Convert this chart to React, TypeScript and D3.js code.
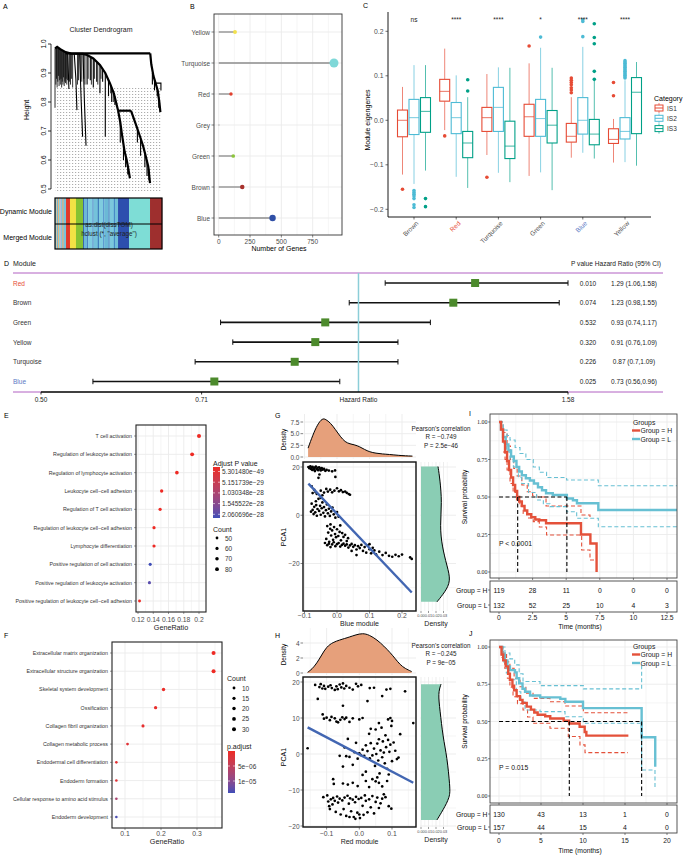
import React from 'react';
import * as d3 from 'd3';

const SANS = '"Liberation Sans", Arial, Helvetica, sans-serif';
const SERIF = '"Liberation Serif", "Times New Roman", serif';
const GRID = '#EBEBEB';
const TXT = '#4D4D4D';

/* ---------------- A : dendrogram ---------------- */
const dendroTicks = [0.5, 0.6, 0.7, 0.8, 0.9, 1.0];
// [leaf position, merge height, leaf height]
const leafComb: [number, number, number][] = [
  [0.0, 0.985, 0.78], [0.008, 0.988, 0.86], [0.014, 0.99, 0.88], [0.02, 0.99, 0.85], [0.026, 0.987, 0.87],
  [0.032, 0.985, 0.89], [0.038, 0.984, 0.855], [0.044, 0.982, 0.875], [0.05, 0.982, 0.86], [0.056, 0.98, 0.88],
  [0.062, 0.978, 0.85], [0.068, 0.977, 0.87], [0.074, 0.976, 0.86], [0.08, 0.975, 0.885], [0.086, 0.974, 0.855],
  [0.092, 0.973, 0.87], [0.098, 0.972, 0.865], [0.104, 0.971, 0.88], [0.11, 0.97, 0.86], [0.116, 0.969, 0.875],
  [0.135, 0.968, 0.87], [0.145, 0.967, 0.86], [0.155, 0.967, 0.88], [0.165, 0.966, 0.85], [0.21, 0.966, 0.86],
  [0.22, 0.966, 0.875], [0.24, 0.966, 0.88], [0.25, 0.966, 0.87], [0.27, 0.964, 0.88], [0.28, 0.963, 0.86],
  [0.31, 0.96, 0.88], [0.34, 0.955, 0.86], [0.37, 0.947, 0.88], [0.4, 0.937, 0.86], [0.43, 0.922, 0.88],
  [0.52, 0.86, 0.83], [0.545, 0.835, 0.8],
];
const dendroMain: [number, number][][] = [
  [[0.0, 0.985], [0.02, 0.99], [0.05, 0.982], [0.1, 0.972], [0.15, 0.967], [0.262, 0.966]],
  [[0.1, 0.968], [0.89, 0.968]],
  [[0.262, 0.966], [0.3, 0.962], [0.358, 0.95], [0.42, 0.928], [0.47, 0.9], [0.514, 0.864], [0.55, 0.83], [0.59, 0.77]],
  [[0.59, 0.77], [0.71, 0.77]],
  [[0.59, 0.77], [0.61, 0.73], [0.625, 0.69], [0.65, 0.63], [0.67, 0.6], [0.69, 0.56], [0.7, 0.537]],
  [[0.71, 0.77], [0.763, 0.715], [0.8, 0.675], [0.825, 0.646], [0.85, 0.61], [0.872, 0.577], [0.888, 0.52]],
  [[0.89, 0.968], [0.9, 0.93], [0.92, 0.89], [0.94, 0.865], [0.96, 0.84], [0.975, 0.8], [0.985, 0.765]],
];
const dendroBranches: [number, number][][] = [
  [[0.12, 0.968], [0.125, 0.9], [0.13, 0.845]],
  [[0.18, 0.966], [0.195, 0.88], [0.205, 0.772]],
  [[0.23, 0.966], [0.245, 0.8], [0.258, 0.68]],
  [[0.262, 0.966], [0.275, 0.8], [0.29, 0.649]],
  [[0.3, 0.962], [0.3, 0.86]], [[0.33, 0.956], [0.33, 0.875]], [[0.358, 0.95], [0.358, 0.85]], [[0.39, 0.94], [0.39, 0.87]],
  [[0.42, 0.928], [0.42, 0.83]], [[0.445, 0.915], [0.445, 0.87]], [[0.47, 0.9], [0.47, 0.68]], [[0.5, 0.875], [0.5, 0.82]],
  [[0.53, 0.85], [0.53, 0.8]], [[0.56, 0.82], [0.56, 0.79]], [[0.61, 0.73], [0.61, 0.66]], [[0.64, 0.65], [0.64, 0.6]],
  [[0.66, 0.615], [0.66, 0.575]], [[0.68, 0.58], [0.68, 0.55]], [[0.77, 0.71], [0.77, 0.66]], [[0.8, 0.675], [0.8, 0.615]],
  [[0.84, 0.625], [0.84, 0.575]], [[0.86, 0.595], [0.86, 0.545]], [[0.878, 0.57], [0.878, 0.53]], [[0.91, 0.9], [0.91, 0.86]],
  [[0.93, 0.875], [0.93, 0.84]], [[0.955, 0.85], [0.955, 0.82]], [[0.97, 0.81], [0.97, 0.78]], [[0.94, 0.865], [0.99, 0.865], [0.99, 0.84]],
];
const moduleSegs: [number, number, string][] = [
  [0, 0.012, '#7EC8E3'], [0.012, 0.02, '#D8B98A'], [0.02, 0.03, '#60B0D0'], [0.03, 0.038, '#F0A860'], [0.038, 0.05, '#8AD0DA'],
  [0.05, 0.058, '#C8A0C0'], [0.058, 0.07, '#6FBFD8'], [0.07, 0.08, '#E89A50'], [0.08, 0.103, '#78C4DC'],
  [0.103, 0.14, '#E2382A'], [0.14, 0.196, '#F2E245'], [0.196, 0.262, '#86C232'],
  [0.262, 0.27, '#2E5AA8'], [0.27, 0.3, '#6DB8D8'], [0.3, 0.31, '#3E7CC0'], [0.31, 0.35, '#80CDE0'], [0.35, 0.36, '#4A88C8'],
  [0.36, 0.4, '#74C2DA'], [0.4, 0.41, '#3B73B8'], [0.41, 0.45, '#7FCCDF'], [0.45, 0.46, '#4A8CCB'], [0.46, 0.5, '#6BB9D6'],
  [0.5, 0.51, '#3E78BE'], [0.51, 0.55, '#7BC8DD'], [0.55, 0.56, '#4586C6'], [0.56, 0.589, '#70BFD8'],
  [0.589, 0.692, '#2D4FAE'], [0.692, 0.888, '#7EDDD6'], [0.888, 1, '#9E2F2E'],
];

/* ---------------- B : genes per module ---------------- */
const geneCats = ['Yellow', 'Turquoise', 'Red', 'Grey', 'Green', 'Brown', 'Blue'];
const geneCounts = [130, 920, 98, 3, 116, 188, 430];
const geneColors = ['#F2E14C', '#7FD8D8', '#E0402E', '#BEBEBE', '#8CC43C', '#A8322D', '#2F4FA6'];
const geneTicks = [0, 250, 500, 750];
const geneMinor = [125, 375, 625, 875];

/* ---------------- C : module eigengenes ---------------- */
const boxModules = ['Brown', 'Red', 'Turquoise', 'Green', 'Blue', 'Yellow'];
const boxSig = ['ns', '****', '****', '*', '****', '****'];
const boxLabelColors = ['#4D4D4D', '#E64B35', '#4D4D4D', '#4D4D4D', '#5A78C4', '#4D4D4D'];
const isGroups = ['IS1', 'IS2', 'IS3'];
const isColors = ['#E64B35', '#4DBBD5', '#00A087'];
// [lower whisker, q1, median, q3, upper whisker]
const statsIS1 = [[-0.122, -0.037, 0.0, 0.023, 0.075], [-0.022, 0.043, 0.065, 0.092, 0.161], [-0.078, -0.025, 0.006, 0.029, 0.104], [-0.125, -0.036, 0.008, 0.036, 0.128], [-0.084, -0.049, -0.036, -0.007, 0.052], [-0.095, -0.052, -0.043, -0.019, 0.003]];
const statsIS2 = [[-0.143, -0.032, 0.006, 0.047, 0.124], [-0.127, -0.03, 0.006, 0.04, 0.101], [-0.118, -0.025, 0.029, 0.074, 0.119], [-0.117, -0.036, 0.004, 0.047, 0.163], [-0.073, -0.031, 0.0, 0.051, 0.165], [-0.094, -0.042, -0.025, 0.006, 0.09]];
const statsIS3 = [[-0.113, -0.027, 0.02, 0.051, 0.124], [-0.152, -0.084, -0.051, -0.025, 0.052], [-0.139, -0.086, -0.058, -0.002, 0.118], [-0.157, -0.051, -0.011, 0.022, 0.118], [-0.086, -0.055, -0.031, 0.002, 0.09], [-0.102, -0.03, 0.063, 0.096, 0.131]];
const outIS1 = [[-0.155], [-0.035], [-0.128], [0.167], [0.062, 0.068, 0.073, 0.08, 0.085, 0.09, 0.095], [0.055, 0.085]];
const outIS2 = [[-0.158, -0.162, -0.166, -0.17, -0.176, -0.19, -0.196], [], [], [0.187], [0.188, 0.222, 0.226], [0.095, 0.098, 0.101, 0.104, 0.107, 0.11, 0.113, 0.116, 0.119, 0.122, 0.125, 0.128, 0.131, 0.134]];
const outIS3 = [[-0.176, -0.194], [0.066, 0.091], [], [], [0.092, 0.11, 0.172, 0.186, 0.217], []];
const eigenTicks = [-0.2, -0.1, 0, 0.1, 0.2];

/* ---------------- D : forest plot ---------------- */
const forestModules = ['Red', 'Brown', 'Green', 'Yellow', 'Turquoise', 'Blue'];
const forestLabelColors = ['#E64B35', '#333', '#333', '#333', '#333', '#5A78C4'];
const forestHR = [1.29, 1.23, 0.93, 0.91, 0.87, 0.73];
const forestLo = [1.06, 0.98, 0.74, 0.76, 0.7, 0.56];
const forestHi = [1.58, 1.55, 1.17, 1.09, 1.09, 0.96];
const forestP = ['0.010', '0.074', '0.532', '0.320', '0.226', '0.025'];
const forestTicks = [0.5, 0.71, 1.58];

/* ---------------- E / F : GO enrichment ---------------- */
const termsE = ['T cell activation', 'Regulation of leukocyte activation', 'Regulation of lymphocyte activation', 'Leukocyte cell\u2212cell adhesion', 'Regulation of T cell activation', 'Regulation of leukocyte cell\u2212cell adhesion', 'Lymphocyte differentiation', 'Positive regulation of cell activation', 'Positive regulation of leukocyte activation', 'Positive regulation of leukocyte cell\u2212cell adhesion'];
const ratioE = [0.2, 0.191, 0.171, 0.151, 0.149, 0.141, 0.141, 0.136, 0.135, 0.122];
const padjE = [5.3e-49, 1.2e-45, 3.5e-40, 8.8e-36, 2.1e-35, 6.0e-33, 7.5e-33, 2.05e-28, 1.9e-28, 4.2e-31];
const countE = [86, 82, 74, 65, 64, 61, 61, 59, 58, 52];
const ticksE = [0.12, 0.14, 0.16, 0.18, 0.2];
const legendPE = ['5.301480e\u221249', '5.151739e\u221229', '1.030348e\u221228', '1.545522e\u221228', '2.060696e\u221228'];
const legendCountE = [50, 60, 70, 80];

const termsF = ['Extracellular matrix organization', 'Extracellular structure organization', 'Skeletal system development', 'Ossification', 'Collagen fibril organization', 'Collagen metabolic process', 'Endodermal cell differentiation', 'Endoderm formation', 'Cellular response to amino acid stimulus', 'Endoderm development'];
const ratioF = [0.346, 0.346, 0.207, 0.185, 0.15, 0.107, 0.076, 0.076, 0.076, 0.076];
const padjF = [1e-9, 1e-9, 4e-7, 6e-7, 9e-7, 1.5e-6, 1.2e-6, 1.5e-6, 7e-6, 1.35e-5];
const countF = [30, 30, 18, 16, 13, 9, 7, 7, 7, 7];
const ticksF = [0.1, 0.2, 0.3];
const legendPF = [5e-6, 1e-5];
const legendCountF = [10, 15, 20, 25, 30];

/* ---------------- G / H : correlation ---------------- */
const ptsBlue: [number, number][] = [
  [-0.088, 20], [-0.085, 19.5], [-0.082, 20.3], [-0.08, 19.2], [-0.078, 19.8], [-0.075, 20.1], [-0.072, 19.4], [-0.07, 18.9], [-0.068, 19.7], [-0.065, 20.2],
  [-0.062, 19.1], [-0.06, 19.6], [-0.058, 18.7], [-0.055, 19.9], [-0.052, 19.3], [-0.05, 18.6], [-0.047, 19.5], [-0.044, 18.9], [-0.04, 19.2], [-0.036, 18.4],
  [-0.032, 18.8], [-0.025, 18.5], [-0.015, 18.2], [-0.006, 18.6], [-0.057, 15.5], [-0.054, 16.9], [-0.005, 15.9], [-0.068, 18.3], [-0.076, 18.8],
  [-0.078, 12], [-0.075, 9.2], [-0.07, 10.5], [-0.066, 9.6], [-0.062, 8.8], [-0.05, 10.2], [-0.04, 9.4], [-0.033, 10.9], [-0.028, 9.8], [-0.021, 10.6],
  [-0.015, 9.5], [-0.008, 10.2], [0, 11.2], [0.006, 9.9], [0.012, 10.4], [0.018, 9.6], [0.025, 9.8], [0.03, 9.3], [0.036, 8.8], [0.04, 8.5], [-0.045, 8.3],
  [-0.08, 1.5], [-0.078, 4.8], [-0.075, 2.2], [-0.072, 0.5], [-0.07, 3.5], [-0.067, 1.2], [-0.064, 4.2], [-0.062, -0.2], [-0.06, 2.6], [-0.057, 6.8],
  [-0.055, 1.8], [-0.052, 3.9], [-0.05, 0.2], [-0.047, 2.9], [-0.045, 5.3], [-0.042, 1.0], [-0.04, 3.4], [-0.037, -0.5], [-0.034, 2.1], [-0.031, 4.5],
  [-0.028, 0.8], [-0.025, 2.7], [-0.022, -0.3], [-0.018, 1.6], [-0.014, 3.2], [-0.01, 0.4], [-0.005, -1.0], [0.0, 1.3], [0.005, -0.6], [-0.065, 5.8], [-0.05, 7.2],
  [-0.033, -9.8], [-0.03, -4.5], [-0.027, -7.2], [-0.024, -11], [-0.021, -5.6], [-0.018, -8.4], [-0.015, -6.3], [-0.012, -10.2], [-0.009, -4.9], [-0.006, -7.8],
  [-0.003, -9.1], [0.0, -5.8], [0.004, -8.6], [0.008, -6.9], [0.012, -10.4], [0.016, -7.4], [0.02, -9.0], [0.025, -8.1], [0.03, -10.7], [0.034, -9.5], [-0.02, -3.8], [0.01, -4.2],
  [-0.037, -11.5], [-0.03, -12.4], [-0.025, -11.8], [-0.02, -13.2], [-0.015, -12.1], [-0.01, -11.2], [-0.005, -12.8], [0.0, -12.0], [0.005, -11.5], [0.01, -13.0],
  [0.015, -12.3], [0.02, -11.8], [0.025, -12.6], [0.03, -12.1], [0.035, -13.4], [0.04, -12.5], [0.045, -11.9], [0.05, -13.1], [0.055, -12.4], [0.06, -14.2],
  [0.065, -12.8], [0.07, -13.6], [0.075, -12.3], [0.08, -14.8], [0.085, -13.2], [0.09, -15.5], [0.095, -12.6], [0.1, -14.1], [0.105, -15.8], [0.11, -13.5],
  [0.115, -14.6], [0.12, -16.2], [0.13, -15.1], [0.14, -16.5], [0.15, -15.6], [0.16, -16.8], [0.17, -17.2], [0.18, -16.4], [0.19, -17.0], [0.2, -16.3],
  [0.225, -17.5], [0.23, -18.1], [0.06, -16.5], [0.045, -14.8], [0.1, -12.0],
];
// fitted line: [slope, intercept]
const fitBlue = [-141.8, 0.6];
const densBlueTop: [number, number][] = [[-0.089, 1.9], [-0.075, 4.6], [-0.06, 7.0], [-0.045, 8.3], [-0.035, 8.1], [-0.02, 7.3], [-0.005, 5.9], [0.01, 4.4], [0.025, 3.2], [0.04, 2.8], [0.055, 2.6], [0.07, 2.2], [0.085, 1.6], [0.1, 1.1], [0.12, 0.8], [0.14, 0.65], [0.16, 0.55], [0.19, 0.35], [0.21, 0.25], [0.232, 0.2]];
const densBlueRight: [number, number][] = [[20.2, 0.0227], [14.8, 0.0253], [5.4, 0.028], [-4.5, 0.0253], [-12.8, 0.028], [-21, 0.0347], [-27.2, 0.04], [-31.8, 0.032], [-35.9, 0.0213]];

const ptsRed: [number, number][] = [
  [-0.135, 19.2], [-0.122, 18.6], [-0.118, 19.4], [-0.113, 18.2], [-0.108, 18.9], [-0.104, 18.1], [-0.095, 18.7], [-0.088, 19.1], [-0.084, 18.3], [-0.07, 18.8],
  [-0.066, 18.0], [-0.06, 19.3], [-0.055, 18.5], [-0.05, 19.6], [-0.046, 18.2], [-0.04, 18.9], [-0.03, 18.4], [-0.01, 19.5], [-0.004, 18.8], [0.006, 19.2],
  [0.032, 18.3], [0.045, 18.4], [0.083, 17.9], [0.095, 18.1], [0.14, 17.4], [-0.02, 17.9], [-0.075, 17.8],
  [-0.127, 15.3], [0.025, 14.7], [0.07, 16.1], [-0.05, 13.4],
  [-0.112, 11.0], [-0.108, 9.8], [-0.1, 10.1], [-0.09, 9.4], [-0.085, 10.3], [-0.075, 9.9], [-0.07, 9.0], [-0.065, 8.8], [-0.058, 9.5], [-0.052, 10.2],
  [-0.045, 9.7], [-0.04, 10.1], [-0.03, 8.9], [-0.02, 9.9], [0.0, 9.6], [0.01, 10.0], [0.095, 10.0], [0.1, 9.2], [0.088, 9.6], [0.165, 8.6],
  [-0.158, 1.6], [-0.045, 1.8], [-0.04, -0.6], [-0.03, -0.8], [-0.035, 4.2], [-0.02, -3.0], [-0.015, 0.5], [-0.01, 3.1], [-0.005, -1.3], [0.0, 0.2],
  [0.005, -0.3], [0.01, 1.2], [0.015, -0.5], [0.02, 2.4], [0.02, -4.9], [0.025, 0.8], [0.03, 5.6], [0.032, -1.2], [0.035, 3.0], [0.04, -0.4],
  [0.045, 1.5], [0.048, -3.3], [0.05, 6.8], [0.052, 0.0], [0.055, 2.9], [0.058, -1.8], [0.06, 4.1], [0.062, -5.4], [0.065, 1.0], [0.068, 7.3],
  [0.07, -0.9], [0.072, 3.5], [0.075, 0.4], [0.078, -2.6], [0.08, 5.2], [0.082, 1.9], [0.085, -4.1], [0.088, 3.9], [0.09, -5.7], [0.092, 0.6],
  [0.095, 2.6], [0.098, 7.8], [0.1, -2.0], [0.105, 3.2], [0.11, 0.9], [0.115, -1.4], [0.12, -1.0], [0.125, 5.5], [0.06, 8.6], [0.035, 7.0], [-0.06, -0.5], [-0.05, -3.5],
  [-0.08, -7.0], [-0.078, -8.3], [-0.05, -8.2], [-0.035, -8.5], [-0.02, -8.0], [-0.005, -8.9], [0.01, -5.8], [0.02, -7.5], [0.03, -9.2], [0.04, -7.0],
  [0.05, -7.6], [0.055, -6.5], [0.06, -8.0], [0.07, -9.0], [0.085, -7.5],
  [-0.11, -12.0], [-0.098, -11.5], [-0.095, -13.2], [-0.092, -14.5], [-0.09, -15.3], [-0.087, -12.6], [-0.082, -14.0], [-0.08, -12.2], [-0.075, -13.0], [-0.072, -16.1],
  [-0.068, -11.8], [-0.065, -13.5], [-0.06, -12.4], [-0.057, -16.8], [-0.052, -12.9], [-0.048, -15.3], [-0.045, -12.1], [-0.04, -17.2], [-0.036, -11.6], [-0.032, -13.8],
  [-0.028, -12.3], [-0.025, -15.9], [-0.02, -12.7], [-0.017, -17.5], [-0.013, -13.4], [-0.01, -11.9], [-0.006, -16.3], [-0.002, -12.5], [0.002, -17.8], [0.006, -12.2],
  [0.01, -14.4], [0.013, -16.9], [0.017, -11.5], [0.02, -13.0], [0.025, -16.2], [0.03, -12.6], [0.035, -14.8], [0.04, -11.7], [0.045, -16.5], [0.05, -13.3],
  [0.055, -12.1], [0.06, -15.0], [0.065, -13.7], [0.07, -12.4], [0.08, -12.0], [0.09, -14.5], [0.098, -15.2], [0.075, -11.2], [-0.03, -17.5], [-0.012, -18.0], [0.0, -16.8],
];
const fitRed = [-47.6, -0.13];
const densRedTop: [number, number][] = [[-0.158, 0.1], [-0.145, 0.5], [-0.13, 1.3], [-0.115, 2.4], [-0.1, 3.5], [-0.08, 4.1], [-0.06, 4.4], [-0.045, 4.6], [-0.03, 4.8], [-0.01, 5.1], [0.01, 5.3], [0.03, 5.1], [0.055, 4.4], [0.075, 3.6], [0.095, 2.7], [0.11, 1.9], [0.125, 1.1], [0.14, 0.6], [0.16, 0.2]];
const densRedRight: [number, number][] = [[19.4, 0.0267], [16.9, 0.0227], [12.2, 0.0253], [4.7, 0.0293], [-0.8, 0.0347], [-9.2, 0.0387], [-11.9, 0.0387], [-15.6, 0.0293], [-18.3, 0.0213]];

/* ---------------- I / J : survival ---------------- */
const kmI_H: [number, number][] = [[0, 1], [0.15, 0.95], [0.3, 0.87], [0.45, 0.8], [0.6, 0.74], [0.75, 0.68], [0.9, 0.63], [1.05, 0.58], [1.2, 0.54], [1.35, 0.5], [1.5, 0.47], [1.7, 0.44], [1.9, 0.41], [2.1, 0.385], [2.4, 0.365], [2.7, 0.35], [3.0, 0.345], [3.5, 0.325], [6.1, 0.25], [6.8, 0.19], [7.26, 0.0]];
const kmI_L: [number, number][] = [[0, 1], [0.15, 0.95], [0.3, 0.9], [0.5, 0.85], [0.7, 0.81], [0.9, 0.77], [1.1, 0.74], [1.3, 0.7], [1.5, 0.67], [1.7, 0.645], [2.0, 0.625], [2.3, 0.61], [2.6, 0.59], [2.9, 0.565], [3.2, 0.545], [3.5, 0.525], [4.0, 0.513], [5.05, 0.49], [5.5, 0.478], [5.8, 0.458], [7.39, 0.413], [13.5, 0.413]];
const kmI_Hup: [number, number][] = [[0, 1], [0.3, 0.93], [0.6, 0.84], [0.85, 0.75], [1.1, 0.69], [1.35, 0.64], [1.7, 0.58], [2.1, 0.535], [2.5, 0.51], [2.8, 0.5], [3.5, 0.44], [6.1, 0.38], [6.77, 0.36]];
const kmI_Hlo: [number, number][] = [[0.3, 0.8], [0.45, 0.75], [0.6, 0.68], [0.82, 0.59], [1.05, 0.53], [1.31, 0.48], [1.55, 0.44], [1.8, 0.39], [2.2, 0.36], [2.55, 0.336], [3.0, 0.3], [3.54, 0.247], [6.15, 0.147], [6.77, 0.08], [7.26, 0.08]];
const kmI_Lup: [number, number][] = [[0, 1], [0.32, 0.947], [0.6, 0.91], [0.82, 0.88], [1.2, 0.83], [1.56, 0.79], [2.0, 0.75], [2.55, 0.7], [3.0, 0.665], [3.54, 0.63], [5.03, 0.613], [7.39, 0.575], [13.5, 0.575]];
const kmI_Llo: [number, number][] = [[0.3, 0.86], [0.57, 0.8], [0.82, 0.75], [1.07, 0.7], [1.44, 0.63], [1.69, 0.59], [2.2, 0.53], [2.8, 0.48], [3.3, 0.455], [3.79, 0.436], [5.03, 0.402], [5.78, 0.358], [7.39, 0.302], [13.5, 0.302]];
const riskTimesI = [0, 2.5, 5, 7.5, 10, 12.5];
const riskI_H = [119, 28, 11, 0, 0, 0];
const riskI_L = [132, 52, 25, 10, 4, 3];

const kmJ_H: [number, number][] = [[0, 1], [0.3, 0.95], [0.5, 0.91], [0.8, 0.87], [1.1, 0.82], [1.3, 0.78], [1.6, 0.74], [1.8, 0.71], [2.1, 0.67], [2.5, 0.645], [2.8, 0.625], [3.3, 0.6], [3.8, 0.58], [4.2, 0.56], [4.6, 0.545], [5.5, 0.535], [6.1, 0.52], [7.7, 0.505], [8.35, 0.487], [9.6, 0.465], [10.2, 0.43], [10.4, 0.405], [15.4, 0.405]];
const kmJ_L: [number, number][] = [[0, 1], [0.4, 0.95], [0.7, 0.91], [1.0, 0.87], [1.3, 0.845], [1.9, 0.83], [2.1, 0.79], [2.4, 0.756], [2.8, 0.72], [3.1, 0.7], [3.7, 0.675], [4.9, 0.662], [7.3, 0.652], [7.9, 0.633], [10.0, 0.59], [16.98, 0.394], [18.6, 0.197]];
const kmJ_Hup: [number, number][] = [[0.2, 1], [0.5, 0.96], [0.9, 0.9], [1.3, 0.857], [1.8, 0.79], [2.5, 0.733], [3.2, 0.69], [4.05, 0.655], [6.07, 0.633], [7.86, 0.604], [10.04, 0.559], [15.36, 0.559]];
const kmJ_Hlo: [number, number][] = [[0.3, 0.93], [0.68, 0.857], [1.0, 0.79], [1.3, 0.73], [1.67, 0.666], [2.2, 0.62], [2.86, 0.577], [3.4, 0.53], [4.05, 0.488], [6.07, 0.455], [8.25, 0.399], [9.64, 0.343], [10.24, 0.291], [15.36, 0.291]];
const kmJ_Lup: [number, number][] = [[0.3, 1], [0.71, 0.96], [1.3, 0.92], [1.87, 0.88], [2.4, 0.82], [2.86, 0.768], [4.88, 0.741], [10.04, 0.719], [16.98, 0.9]];
const kmJ_Llo: [number, number][] = [[0.5, 0.9], [0.87, 0.826], [1.3, 0.78], [2.06, 0.7], [2.6, 0.63], [3.1, 0.577], [4.88, 0.566], [7.86, 0.532], [10.04, 0.488], [16.98, 0.174], [18.57, 0.06]];
const riskTimesJ = [0, 5, 10, 15, 20];
const riskJ_H = [130, 43, 13, 1, 0];
const riskJ_L = [157, 44, 15, 4, 0];

const KM_H = '#E4513A';
const KM_L = '#67C0D3';

/* ======================================================= */

function PanelA() {
  const x = d3.scaleLinear().domain([0, 1]).range([55, 162]);
  const y = d3.scaleLinear().domain([0.5, 1]).range([189, 44]);
  const line = d3.line<[number, number]>().x(d => x(d[0])).y(d => y(d[1]));
  return (
    <g>
      <text x={3} y={9} fontSize={7}>A</text>
      <text x={101} y={31.5} fontSize={7} textAnchor="middle" fill="#222">Cluster Dendrogram</text>
      <defs>
        <pattern id="leafdots" width={3} height={3} patternUnits="userSpaceOnUse">
          <rect x={0} y={1} width={1.2} height={0.7} fill="#8a8a8a" />
        </pattern>
      </defs>
      <rect x={x(0)} y={y(0.855)} width={x(1) - x(0)} height={193 - y(0.855)} fill="url(#leafdots)" />
      {leafComb.map((d, i) => <line key={'lc' + i} x1={x(d[0])} x2={x(d[0])} y1={y(d[1])} y2={y(d[2])} stroke="#000" strokeWidth={0.8} />)}
      {dendroBranches.map((d, i) => <path key={'db' + i} d={line(d) || ''} fill="none" stroke="#000" strokeWidth={1.1} />)}
      {dendroMain.map((d, i) => <path key={'dm' + i} d={line(d) || ''} fill="none" stroke="#000" strokeWidth={2.2} />)}
      <line x1={51} x2={51} y1={y(0.5)} y2={y(1)} stroke="#000" strokeWidth={0.8} />
      {dendroTicks.map(t => (
        <g key={'at' + t}>
          <line x1={48} x2={51} y1={y(t)} y2={y(t)} stroke="#000" strokeWidth={0.8} />
          <text transform={`translate(45.5,${y(t)}) rotate(-90)`} fontSize={6.5} textAnchor="middle">{t.toFixed(1)}</text>
        </g>
      ))}
      <text transform="translate(28.5,110) rotate(-90)" fontSize={7} textAnchor="middle">Height</text>
      {moduleSegs.map((s, i) => (
        <g key={'ms' + i}>
          <rect x={x(s[0])} y={198} width={x(s[1]) - x(s[0]) + 0.2} height={26} fill={s[2]} />
          <rect x={x(s[0])} y={224} width={x(s[1]) - x(s[0]) + 0.2} height={25} fill={s[2]} />
        </g>
      ))}
      <rect x={x(0)} y={198} width={x(1) - x(0)} height={51} fill="none" stroke="#000" strokeWidth={1.2} />
      <line x1={x(0)} x2={x(1)} y1={224} y2={224} stroke="#000" strokeWidth={1} />
      <text x={52} y={211} fontSize={7} textAnchor="end" dominantBaseline="central">Dynamic Module</text>
      <text x={52} y={237} fontSize={7} textAnchor="end" dominantBaseline="central">Merged Module</text>
      <text x={109} y={224.5} fontSize={6.3} textAnchor="middle" dominantBaseline="central" fill="#222">as.dist(dissTOM)</text>
      <text x={109} y={233} fontSize={6.3} textAnchor="middle" dominantBaseline="central" fill="#222">hclust (*, "average")</text>
    </g>
  );
}

function PanelB() {
  const x = d3.scaleLinear().domain([-37.5, 984]).range([214, 342]);
  const y = d3.scalePoint<string>().domain(geneCats).range([32, 218]);
  const r = d3.scaleSqrt().domain([0, 920]).range([0.4, 4.5]);
  return (
    <g>
      <text x={190} y={9} fontSize={7}>B</text>
      {geneMinor.map(t => <line key={'bm' + t} x1={x(t)} x2={x(t)} y1={14} y2={235} stroke={GRID} strokeWidth={0.5} />)}
      {geneTicks.map(t => <line key={'bM' + t} x1={x(t)} x2={x(t)} y1={14} y2={235} stroke={GRID} strokeWidth={0.9} />)}
      {geneCats.map(c => <line key={'bh' + c} x1={214} x2={342} y1={y(c)} y2={y(c)} stroke={GRID} strokeWidth={0.9} />)}
      {geneCats.map((c, i) => (
        <g key={'bp' + c}>
          <line x1={x(0)} x2={x(geneCounts[i])} y1={y(c)} y2={y(c)} stroke="#8C8C8C" strokeWidth={1.3} />
          <circle cx={x(geneCounts[i])} cy={y(c)} r={r(geneCounts[i])} fill={geneColors[i]} />
        </g>
      ))}
      <rect x={214} y={14} width={128} height={221} fill="none" stroke="#333" strokeWidth={0.9} />
      {geneCats.map(c => (
        <g key={'by' + c}>
          <line x1={211.5} x2={214} y1={y(c)} y2={y(c)} stroke="#333" strokeWidth={0.6} />
          <text x={210} y={y(c)} fontSize={6.5} textAnchor="end" dominantBaseline="central" fill={TXT}>{c}</text>
        </g>
      ))}
      {geneTicks.map(t => (
        <g key={'bx' + t}>
          <line x1={x(t)} x2={x(t)} y1={235} y2={237.5} stroke="#333" strokeWidth={0.6} />
          <text x={x(t)} y={241} fontSize={6.5} textAnchor="middle" dominantBaseline="central" fill={TXT}>{t}</text>
        </g>
      ))}
      <text x={279} y={248.5} fontSize={7} textAnchor="middle" dominantBaseline="central">Number of Genes</text>
    </g>
  );
}

function PanelC() {
  const y = d3.scaleLinear().domain([-0.2, 0.2]).range([209.3, 31.3]);
  const x = d3.scalePoint<string>().domain(boxModules).range([414, 625]);
  const stats = [statsIS1, statsIS2, statsIS3];
  const outs = [outIS1, outIS2, outIS3];
  const off = [-11.5, 0, 11.5];
  return (
    <g>
      <text x={363} y={8} fontSize={7}>C</text>
      {boxModules.map((m, mi) => (
        <g key={'cm' + m}>
          {isGroups.map((g, gi) => {
            const s = stats[gi][mi];
            const cx = (x(m) || 0) + off[gi];
            const col = isColors[gi];
            return (
              <g key={'cg' + g}>
                <line x1={cx} x2={cx} y1={y(s[4])} y2={y(s[3])} stroke={col} strokeOpacity={0.75} strokeWidth={0.9} />
                <line x1={cx} x2={cx} y1={y(s[1])} y2={y(s[0])} stroke={col} strokeOpacity={0.75} strokeWidth={0.9} />
                <rect x={cx - 5} y={y(s[3])} width={10} height={y(s[1]) - y(s[3])} fill="#fff" stroke={col} strokeWidth={1.1} />
                <line x1={cx - 5} x2={cx + 5} y1={y(s[2])} y2={y(s[2])} stroke={col} strokeOpacity={0.7} strokeWidth={1.1} />
                {outs[gi][mi].map((o, oi) => <circle key={'co' + oi} cx={cx} cy={y(o)} r={1.8} fill={col} />)}
              </g>
            );
          })}
          <text x={x(m)} y={19} fontSize={6.5} textAnchor="middle" dominantBaseline="central" fill="#222">{boxSig[mi]}</text>
          <line x1={x(m)} x2={x(m)} y1={217} y2={219.5} stroke="#333" strokeWidth={0.7} />
          <text transform={`translate(${(x(m) || 0) + 3},${222}) rotate(-45)`} fontSize={6.5} textAnchor="end" dominantBaseline="central" fill={boxLabelColors[mi]}>{m}</text>
        </g>
      ))}
      <line x1={388} x2={388} y1={12} y2={217} stroke="#000" strokeWidth={0.9} />
      <line x1={388} x2={651} y1={217} y2={217} stroke="#000" strokeWidth={0.9} />
      {eigenTicks.map(t => (
        <g key={'ct' + t}>
          <line x1={385.5} x2={388} y1={y(t)} y2={y(t)} stroke="#333" strokeWidth={0.7} />
          <text x={383.5} y={y(t)} fontSize={6.8} textAnchor="end" dominantBaseline="central" fill={TXT}>{d3.format('.1f')(t).replace('-', '\u2212')}</text>
        </g>
      ))}
      <text transform="translate(370,120) rotate(-90)" fontSize={7} textAnchor="middle">Module eigengenes</text>
      <text x={654} y={98.3} fontSize={7} dominantBaseline="central">Category</text>
      {isGroups.map((g, gi) => {
        const cy = 108 + gi * 10.3;
        return (
          <g key={'cl' + g}>
            <line x1={659} x2={659} y1={cy - 5} y2={cy + 5} stroke={isColors[gi]} strokeWidth={0.9} strokeOpacity={0.75} />
            <rect x={655} y={cy - 3} width={8} height={6} fill="#fff" stroke={isColors[gi]} strokeWidth={1} />
            <line x1={655} x2={663} y1={cy} y2={cy} stroke={isColors[gi]} strokeWidth={1} />
            <text x={667} y={cy} fontSize={6.5} dominantBaseline="central" fill="#333">{g}</text>
          </g>
        );
      })}
    </g>
  );
}

function PanelD() {
  const x = d3.scaleLog().domain([0.5, 1.58]).range([41, 568]);
  const rowY = (i: number) => 283 + i * 19.7;
  const PURPLE = '#B160C2';
  return (
    <g>
      <text x={4} y={263.3} fontSize={7} dominantBaseline="central">D</text>
      <text x={13} y={263.3} fontSize={7} dominantBaseline="central" fill="#222">Module</text>
      <text x={571} y={263.3} fontSize={6.6} dominantBaseline="central" fill="#222">P value Hazard Ratio (95% CI)</text>
      <line x1={13} x2={663} y1={273} y2={273} stroke={PURPLE} strokeWidth={1} />
      {forestModules.map((m, i) => (
        <g key={'dl' + m}>
          <line x1={x(forestLo[i])} x2={x(forestHi[i])} y1={rowY(i)} y2={rowY(i)} stroke="#111" strokeWidth={1.6} />
          <line x1={x(forestLo[i])} x2={x(forestLo[i])} y1={rowY(i) - 2.7} y2={rowY(i) + 2.7} stroke="#111" strokeWidth={1} />
          <line x1={x(forestHi[i])} x2={x(forestHi[i])} y1={rowY(i) - 2.7} y2={rowY(i) + 2.7} stroke="#111" strokeWidth={1} />
        </g>
      ))}
      <line x1={x(1)} x2={x(1)} y1={273} y2={392} stroke="#8CCED8" strokeWidth={1.5} />
      {forestModules.map((m, i) => (
        <g key={'ds' + m}>
          <rect x={x(forestHR[i]) - 4} y={rowY(i) - 4} width={8} height={8} fill="#4C8A2C" />
          <text x={13} y={rowY(i)} fontSize={6.5} dominantBaseline="central" fill={forestLabelColors[i]}>{m}</text>
          <text x={588} y={rowY(i)} fontSize={6.5} textAnchor="middle" dominantBaseline="central" fill="#222">{forestP[i]}</text>
          <text x={634} y={rowY(i)} fontSize={6.5} textAnchor="middle" dominantBaseline="central" fill="#222">{`${forestHR[i].toFixed(2)} (${forestLo[i]},${forestHi[i]})`}</text>
        </g>
      ))}
      <line x1={13} x2={x(0.5)} y1={392} y2={392} stroke={PURPLE} strokeWidth={1} />
      <line x1={x(1.58)} x2={663} y1={392} y2={392} stroke={PURPLE} strokeWidth={1} />
      <line x1={x(0.5)} x2={x(1.58)} y1={392} y2={392} stroke="#000" strokeWidth={1.6} />
      {forestTicks.map(t => (
        <g key={'dt' + t}>
          <line x1={x(t)} x2={x(t)} y1={392} y2={394.5} stroke="#000" strokeWidth={0.8} />
          <text x={x(t)} y={399} fontSize={6.5} textAnchor="middle" dominantBaseline="central" fill="#222">{t.toFixed(2)}</text>
        </g>
      ))}
      <text x={x(1)} y={399} fontSize={6.5} textAnchor="middle" dominantBaseline="central" fill="#222">Hazard Ratio</text>
    </g>
  );
}

function GOPlot(props: any) {
  const { terms, ratio, padj, count, xScale, rowRange, frame, ticks, minor, labelX, colorScale, sizeScale, tickY, titleY } = props;
  const y = d3.scalePoint<string>().domain(terms).range(rowRange);
  const [fx0, fx1, fy0, fy1] = frame;
  return (
    <g>
      {minor.map((t: number) => <line key={'gm' + t} x1={xScale(t)} x2={xScale(t)} y1={fy0} y2={fy1} stroke={GRID} strokeWidth={0.5} />)}
      {ticks.map((t: number) => <line key={'gM' + t} x1={xScale(t)} x2={xScale(t)} y1={fy0} y2={fy1} stroke={GRID} strokeWidth={0.9} />)}
      {terms.map((t: string) => <line key={'gh' + t} x1={fx0} x2={fx1} y1={y(t)} y2={y(t)} stroke={GRID} strokeWidth={0.9} />)}
      {terms.map((t: string, i: number) => <circle key={'gc' + t} cx={xScale(ratio[i])} cy={y(t)} r={sizeScale(count[i])} fill={colorScale(padj[i])} />)}
      <rect x={fx0} y={fy0} width={fx1 - fx0} height={fy1 - fy0} fill="none" stroke="#222" strokeWidth={1.1} />
      {terms.map((t: string) => (
        <g key={'gl' + t}>
          <line x1={fx0 - 2} x2={fx0} y1={y(t)} y2={y(t)} stroke="#333" strokeWidth={0.5} />
          <text x={labelX} y={y(t)} fontSize={5.3} textAnchor="end" dominantBaseline="central" fill="#333">{t}</text>
        </g>
      ))}
      {ticks.map((t: number) => (
        <g key={'gx' + t}>
          <line x1={xScale(t)} x2={xScale(t)} y1={fy1} y2={fy1 + 2} stroke="#333" strokeWidth={0.5} />
          <text x={xScale(t)} y={tickY} fontSize={6.8} textAnchor="middle" dominantBaseline="central" fill={TXT}>{String(t)}</text>
        </g>
      ))}
      <text x={(fx0 + fx1) / 2} y={titleY} fontSize={7.2} textAnchor="middle" dominantBaseline="central" fill="#222">GeneRatio</text>
    </g>
  );
}

function PanelE() {
  const xScale = d3.scaleLinear().domain([0.12, 0.2]).range([138, 199]);
  const colorScale = d3.scaleLinear<string>().domain([5.30148e-49, 2.060696e-28]).range(['#EE2A24', '#3E4EB8']).interpolate(d3.interpolateLab);
  const sizeScale = d3.scaleSqrt().domain([50, 86]).range([1.4, 2.0]);
  const gradStops = d3.range(0, 1.01, 0.1);
  return (
    <g>
      <text x={4} y={415} fontSize={7} dominantBaseline="central">E</text>
      <GOPlot terms={termsE} ratio={ratioE} padj={padjE} count={countE} xScale={xScale} rowRange={[436, 601]} frame={[136, 206, 425, 612]}
        ticks={ticksE} minor={[0.13, 0.15, 0.17, 0.19]} labelX={132} colorScale={colorScale} sizeScale={sizeScale} tickY={619.5} titleY={627.5} />
      <defs>
        <linearGradient id="gradE" x1="0" x2="0" y1="0" y2="1">
          {gradStops.map(s => <stop key={'ge' + s} offset={s} stopColor={d3.interpolateLab('#EE2A24', '#3E4EB8')(s)} />)}
        </linearGradient>
      </defs>
      <text x={213} y={463} fontSize={7} dominantBaseline="central" fill="#222">Adjust P value</text>
      <rect x={213} y={467} width={7} height={51} fill="url(#gradE)" />
      {legendPE.map((l, i) => {
        const yy = 471.5 + i * 10.7;
        return (
          <g key={'le' + i}>
            <line x1={213} x2={215} y1={yy} y2={yy} stroke="#fff" strokeWidth={0.6} />
            <line x1={218} x2={220} y1={yy} y2={yy} stroke="#fff" strokeWidth={0.6} />
            <text x={222} y={yy} fontSize={6.5} dominantBaseline="central" fill="#333">{l}</text>
          </g>
        );
      })}
      <text x={213} y={529} fontSize={7} dominantBaseline="central" fill="#222">Count</text>
      {legendCountE.map((c, i) => (
        <g key={'lce' + c}>
          <circle cx={217} cy={538 + i * 10.4} r={sizeScale(c)} fill="#000" />
          <text x={225} y={538 + i * 10.4} fontSize={6.5} dominantBaseline="central" fill="#333">{c}</text>
        </g>
      ))}
    </g>
  );
}

function PanelF() {
  const xScale = d3.scaleLinear().domain([0.1, 0.3]).range([125, 197]);
  const colorScale = d3.scaleLinear<string>().domain([0, 1.4e-5]).range(['#EE2A24', '#3E4EB8']).interpolate(d3.interpolateLab);
  const sizeScale = d3.scaleSqrt().domain([7, 30]).range([1.3, 2.0]);
  const barY = d3.scaleLinear().domain([0, 1.4e-5]).range([751, 793]);
  const gradStops = d3.range(0, 1.01, 0.1);
  return (
    <g>
      <text x={4} y={635} fontSize={7} dominantBaseline="central">F</text>
      <GOPlot terms={termsF} ratio={ratioF} padj={padjF} count={countF} xScale={xScale} rowRange={[653, 817]} frame={[112, 222, 642, 828]}
        ticks={ticksF} minor={[0.15, 0.25, 0.35]} labelX={108} colorScale={colorScale} sizeScale={sizeScale} tickY={833.5} titleY={841} />
      <text x={227} y={678} fontSize={7} dominantBaseline="central" fill="#222">Count</text>
      {legendCountF.map((c, i) => (
        <g key={'lcf' + c}>
          <circle cx={234} cy={688 + i * 10.3} r={sizeScale(c)} fill="#000" />
          <text x={242} y={688 + i * 10.3} fontSize={6.5} dominantBaseline="central" fill="#333">{c}</text>
        </g>
      ))}
      <defs>
        <linearGradient id="gradF" x1="0" x2="0" y1="0" y2="1">
          {gradStops.map(s => <stop key={'gf' + s} offset={s} stopColor={d3.interpolateLab('#EE2A24', '#3E4EB8')(s)} />)}
        </linearGradient>
      </defs>
      <text x={227} y={746} fontSize={7} dominantBaseline="central" fill="#222">p.adjust</text>
      <rect x={228} y={751} width={7} height={42} fill="url(#gradF)" />
      {legendPF.map(v => (
        <g key={'lpf' + v}>
          <line x1={228} x2={230} y1={barY(v)} y2={barY(v)} stroke="#fff" strokeWidth={0.6} />
          <line x1={233} x2={235} y1={barY(v)} y2={barY(v)} stroke="#fff" strokeWidth={0.6} />
          <text x={238} y={barY(v)} fontSize={6.5} dominantBaseline="central" fill="#333">{d3.format('.0e')(v).replace('e-6', 'e\u221206').replace('e-5', 'e\u221205')}</text>
        </g>
      ))}
    </g>
  );
}

function ScatterPanel(props: any) {
  const { label, labelY, pts, fit, x, y, xTicks, xMinor, yTicks, yMinor, frame, topDens, dy, dTicks, dFmt, topRegion, rightDens,
    pearson, pearsonY, xTitle, tickY, titleY, rTickY, rTitleY, pcaY } = props;
  const [fx0, fx1, fy0, fy1] = frame;
  const rx = d3.scaleLinear().domain([0, 0.01]).range([421, 428.5]);
  const rTicks = [0, 0.01, 0.02, 0.03];
  const rMinor = [0.005, 0.015, 0.025, 0.035];
  const [xmin, xmax] = d3.extent(pts, (d: [number, number]) => d[0]) as [number, number];
  const fy = (v: number) => fit[1] + fit[0] * v;
  const topArea = d3.area<[number, number]>().x(d => x(d[0])).y0(dy(0)).y1(d => dy(d[1])).curve(d3.curveBasis);
  const topLine = d3.line<[number, number]>().x(d => x(d[0])).y(d => dy(d[1])).curve(d3.curveBasis);
  const rArea = d3.area<[number, number]>().y(d => y(d[0])).x0(rx(0)).x1(d => rx(d[1])).curve(d3.curveBasis);
  const rLine = d3.line<[number, number]>().y(d => y(d[0])).x(d => rx(d[1])).curve(d3.curveBasis);
  const [ty0, ty1] = topRegion;
  const fmt = (v: number) => d3.format('.1f')(v).replace('-', '\u2212');
  return (
    <g>
      <text x={275} y={labelY} fontSize={7} dominantBaseline="central">{label}</text>
      {xMinor.map((t: number) => <line key={'tm' + t} x1={x(t)} x2={x(t)} y1={ty0} y2={ty1} stroke={GRID} strokeWidth={0.5} />)}
      {xTicks.map((t: number) => <line key={'tM' + t} x1={x(t)} x2={x(t)} y1={ty0} y2={ty1} stroke={GRID} strokeWidth={0.9} />)}
      {dTicks.map((t: number) => <line key={'th' + t} x1={fx0} x2={fx1} y1={dy(t)} y2={dy(t)} stroke={GRID} strokeWidth={0.9} />)}
      <path d={topArea(topDens) || ''} fill="#E6A07B" />
      <path d={topLine(topDens) || ''} fill="none" stroke="#000" strokeWidth={1} />
      {dTicks.map((t: number) => (
        <g key={'dt' + t}>
          <line x1={fx0 - 2.5} x2={fx0} y1={dy(t)} y2={dy(t)} stroke="#333" strokeWidth={0.6} />
          <text x={fx0 - 3.5} y={dy(t)} fontSize={6.5} textAnchor="end" dominantBaseline="central" fill={TXT}>{dFmt(t)}</text>
        </g>
      ))}
      <text transform={`translate(285.5,${(ty0 + ty1) / 2 + 3}) rotate(-90)`} fontSize={6.5} textAnchor="middle">Density</text>
      {pearson.map((s: string, i: number) => (
        <text key={'pe' + i} x={441} y={pearsonY + i * 8.6} fontSize={6.3} textAnchor="middle" dominantBaseline="central" fill="#222">{s}</text>
      ))}
      {xMinor.map((t: number) => <line key={'mm' + t} x1={x(t)} x2={x(t)} y1={fy0} y2={fy1} stroke={GRID} strokeWidth={0.5} />)}
      {xTicks.map((t: number) => <line key={'mM' + t} x1={x(t)} x2={x(t)} y1={fy0} y2={fy1} stroke={GRID} strokeWidth={0.9} />)}
      {yMinor.map((t: number) => <line key={'my' + t} x1={fx0} x2={fx1} y1={y(t)} y2={y(t)} stroke={GRID} strokeWidth={0.5} />)}
      {yTicks.map((t: number) => <line key={'mY' + t} x1={fx0} x2={fx1} y1={y(t)} y2={y(t)} stroke={GRID} strokeWidth={0.9} />)}
      {pts.map((d: [number, number], i: number) => <circle key={'p' + i} cx={x(d[0])} cy={y(d[1])} r={1.35} fill="#000" />)}
      <line x1={x(xmin)} x2={x(xmax)} y1={y(fy(xmin))} y2={y(fy(xmax))} stroke="#4266B2" strokeWidth={2.4} />
      <rect x={fx0} y={fy0} width={fx1 - fx0} height={fy1 - fy0} fill="none" stroke="#111" strokeWidth={1.4} />
      {yTicks.map((t: number) => (
        <g key={'yt' + t}>
          <line x1={fx0 - 2.5} x2={fx0} y1={y(t)} y2={y(t)} stroke="#333" strokeWidth={0.6} />
          <text x={fx0 - 3.5} y={y(t)} fontSize={6.5} textAnchor="end" dominantBaseline="central" fill={TXT}>{String(t).replace('-', '\u2212')}</text>
        </g>
      ))}
      {xTicks.map((t: number) => (
        <g key={'xt' + t}>
          <line x1={x(t)} x2={x(t)} y1={fy1} y2={fy1 + 2.5} stroke="#333" strokeWidth={0.6} />
          <text x={x(t)} y={tickY} fontSize={6.8} textAnchor="middle" dominantBaseline="central" fill={TXT}>{fmt(t)}</text>
        </g>
      ))}
      <text x={(fx0 + fx1) / 2} y={titleY} fontSize={7} textAnchor="middle" dominantBaseline="central" fill="#222">{xTitle}</text>
      <text transform={`translate(285.5,${pcaY}) rotate(-90)`} fontSize={7} textAnchor="middle">PCA1</text>
      {rMinor.map(t => <line key={'rm' + t} x1={rx(t)} x2={rx(t)} y1={fy0} y2={fy1} stroke={GRID} strokeWidth={0.5} />)}
      {rTicks.map(t => <line key={'rM' + t} x1={rx(t)} x2={rx(t)} y1={fy0} y2={fy1} stroke={GRID} strokeWidth={0.9} />)}
      {yMinor.map((t: number) => <line key={'ry' + t} x1={420} x2={456} y1={y(t)} y2={y(t)} stroke={GRID} strokeWidth={0.5} />)}
      {yTicks.map((t: number) => <line key={'rY' + t} x1={420} x2={456} y1={y(t)} y2={y(t)} stroke={GRID} strokeWidth={0.9} />)}
      <path d={rArea(rightDens) || ''} fill="#8ACDB4" />
      <path d={rLine(rightDens) || ''} fill="none" stroke="#000" strokeWidth={1} />
      {rTicks.map(t => (
        <g key={'rt' + t}>
          <line x1={rx(t)} x2={rx(t)} y1={fy1} y2={fy1 + 2} stroke="#333" strokeWidth={0.5} />
          <text x={rx(t)} y={rTickY} fontSize={3.9} textAnchor="middle" dominantBaseline="central" fill={TXT}>{t.toFixed(2)}</text>
        </g>
      ))}
      <text x={436} y={rTitleY} fontSize={7} textAnchor="middle" dominantBaseline="central" fill="#222">Density</text>
    </g>
  );
}

function PanelG() {
  const x = d3.scaleLinear().domain([-0.1, 0.2]).range([304.5, 402]);
  const y = d3.scaleLinear().domain([-20, 20]).range([563.5, 467]);
  const dy = d3.scaleLinear().domain([0, 7.5]).range([457, 422]);
  return (
    <ScatterPanel label="G" labelY={415} pts={ptsBlue} fit={fitBlue} x={x} y={y} xTicks={[-0.1, 0, 0.1, 0.2]} xMinor={[-0.05, 0.05, 0.15]}
      yTicks={[20, 0, -20]} yMinor={[10, -10, -30]} frame={[303, 416, 462, 611]} topDens={densBlueTop} dy={dy}
      dTicks={[0, 2.5, 5, 7.5]} dFmt={(t: number) => t.toFixed(1)} topRegion={[414, 459]} rightDens={densBlueRight}
      pearson={["Pearson's correlation", 'R = \u22120.749', 'P = 2.5e\u221246']} pearsonY={428} xTitle="Blue module"
      tickY={615.5} titleY={623.5} rTickY={615.5} rTitleY={623.5} pcaY={537} />
  );
}

function PanelH() {
  const x = d3.scaleLinear().domain([-0.1, 0.1]).range([326.6, 392]);
  const y = d3.scaleLinear().domain([-20, 20]).range([826, 682]);
  const dy = d3.scaleLinear().domain([0, 4]).range([673, 643]);
  return (
    <ScatterPanel label="H" labelY={635} pts={ptsRed} fit={fitRed} x={x} y={y} xTicks={[-0.1, 0, 0.1]} xMinor={[-0.15, -0.05, 0.05, 0.15]}
      yTicks={[20, 10, 0, -10, -20]} yMinor={[15, 5, -5, -15]} frame={[303, 416, 677, 827]} topDens={densRedTop} dy={dy}
      dTicks={[0, 2, 4]} dFmt={(t: number) => String(t)} topRegion={[628, 675]} rightDens={densRedRight}
      pearson={["Pearson's correlation", 'R = \u22120.245', 'P = 9e\u221205']} pearsonY={645} xTitle="Red module"
      tickY={833} titleY={841} rTickY={831} rTitleY={839} pcaY={757} />
  );
}

function KM(p: any) {
  const x = d3.scaleLinear().domain(p.tDomain).range([499, 667]);
  const y = d3.scaleLinear().domain([0, 1]).range([p.yBot, p.yTop]);
  const line = d3.line<[number, number]>().x(d => x(d[0])).y(d => y(d[1])).curve(d3.curveStepAfter);
  const F0 = 490, F1 = 677;
  const clipId = 'kmclip' + p.label;
  const yMaj = [0, 0.25, 0.5, 0.75, 1];
  const yMin = [0.125, 0.375, 0.625, 0.875];
  const dash = '4,2.5';
  return (
    <g>
      <text x={469} y={p.ly} fontSize={7} dominantBaseline="central">{p.label}</text>
      <defs>
        <clipPath id={clipId}><rect x={F0} y={p.frameTop} width={F1 - F0} height={p.frameBot - p.frameTop} /></clipPath>
      </defs>
      {p.tMinor.map((t: number) => <line key={'km' + t} x1={x(t)} x2={x(t)} y1={p.frameTop} y2={p.frameBot} stroke={GRID} strokeWidth={0.5} />)}
      {p.tTicks.map((t: number) => <line key={'kM' + t} x1={x(t)} x2={x(t)} y1={p.frameTop} y2={p.frameBot} stroke={GRID} strokeWidth={0.9} />)}
      {yMin.map(t => <line key={'kym' + t} x1={F0} x2={F1} y1={y(t)} y2={y(t)} stroke={GRID} strokeWidth={0.5} />)}
      {yMaj.map(t => <line key={'kyM' + t} x1={F0} x2={F1} y1={y(t)} y2={y(t)} stroke={GRID} strokeWidth={0.9} />)}
      <g clipPath={`url(#${clipId})`}>
        <path d={line(p.Hup) || ''} fill="none" stroke={KM_H} strokeWidth={1.1} strokeDasharray={dash} />
        <path d={line(p.Hlo) || ''} fill="none" stroke={KM_H} strokeWidth={1.1} strokeDasharray={dash} />
        <path d={line(p.Lup) || ''} fill="none" stroke={KM_L} strokeWidth={1.1} strokeDasharray={dash} />
        <path d={line(p.Llo) || ''} fill="none" stroke={KM_L} strokeWidth={1.1} strokeDasharray={dash} />
        <path d={line(p.L) || ''} fill="none" stroke={KM_L} strokeWidth={2.4} />
        <path d={line(p.H) || ''} fill="none" stroke={KM_H} strokeWidth={2.4} />
        <line x1={x(0)} x2={x(p.medL)} y1={y(0.5)} y2={y(0.5)} stroke="#000" strokeWidth={1.1} strokeDasharray={dash} />
        <line x1={x(p.medH)} x2={x(p.medH)} y1={y(0.5)} y2={y(0)} stroke="#000" strokeWidth={1.1} strokeDasharray={dash} />
        <line x1={x(p.medL)} x2={x(p.medL)} y1={y(0.5)} y2={y(0)} stroke="#000" strokeWidth={1.1} strokeDasharray={dash} />
      </g>
      <rect x={F0} y={p.frameTop} width={F1 - F0} height={p.frameBot - p.frameTop} fill="none" stroke="#444" strokeWidth={0.9} />
      {yMaj.map(t => (
        <g key={'kyt' + t}>
          <line x1={F0 - 2} x2={F0} y1={y(t)} y2={y(t)} stroke="#333" strokeWidth={0.6} />
          <text x={F0 - 2.5} y={y(t)} fontSize={6} fontFamily={SERIF} textAnchor="end" dominantBaseline="central" fill="#222">{t.toFixed(2)}</text>
        </g>
      ))}
      {p.tTicks.map((t: number) => <line key={'kbt' + t} x1={x(t)} x2={x(t)} y1={p.frameBot} y2={p.frameBot + 2} stroke="#333" strokeWidth={0.6} />)}
      <text transform={`translate(467,${(p.yTop + p.yBot) / 2}) rotate(-90)`} fontSize={6.5} textAnchor="middle">Survival probability</text>
      <text x={499} y={p.pY} fontSize={6.8} dominantBaseline="central" fill="#111">{p.pText}</text>
      <text x={633} y={p.legY} fontSize={6.8} dominantBaseline="central" fill="#222">Groups</text>
      <line x1={632} x2={640} y1={p.legY + 8.5} y2={p.legY + 8.5} stroke={KM_H} strokeWidth={2.4} />
      <text x={640.5} y={p.legY + 8.5} fontSize={6.8} dominantBaseline="central" fill="#222">Group = H</text>
      <line x1={632} x2={640} y1={p.legY + 17} y2={p.legY + 17} stroke={KM_L} strokeWidth={2.4} />
      <text x={640.5} y={p.legY + 17} fontSize={6.8} dominantBaseline="central" fill="#222">Group = L</text>
      <rect x={F0} y={p.tabTop} width={F1 - F0} height={p.tabBot - p.tabTop} fill="none" stroke="#444" strokeWidth={0.9} />
      {[['Group = H', p.rowH, p.riskH], ['Group = L', p.rowL, p.riskL]].map((r: any) => (
        <g key={'rr' + r[0]}>
          <line x1={F0 - 2} x2={F0} y1={r[1]} y2={r[1]} stroke="#333" strokeWidth={0.6} />
          <text x={F0 - 2.5} y={r[1]} fontSize={6.8} textAnchor="end" dominantBaseline="central" fill="#111">{r[0]}</text>
          {r[2].map((n: number, i: number) => (
            <text key={'rn' + i} x={x(p.tTicks[i])} y={r[1]} fontSize={6.8} textAnchor="middle" dominantBaseline="central" fill="#111">{n}</text>
          ))}
        </g>
      ))}
      {p.tTicks.map((t: number) => (
        <g key={'kxt' + t}>
          <line x1={x(t)} x2={x(t)} y1={p.tabBot} y2={p.tabBot + 2} stroke="#333" strokeWidth={0.6} />
          <text x={x(t)} y={p.tickY} fontSize={6.8} textAnchor="middle" dominantBaseline="central" fill="#222">{String(t)}</text>
        </g>
      ))}
      <text x={580} y={p.timeY} fontSize={6.8} textAnchor="middle" dominantBaseline="central" fill="#111">Time (months)</text>
    </g>
  );
}

function PanelI() {
  return (
    <KM label="I" ly={413} tDomain={[0, 12.5]} tTicks={riskTimesI} tMinor={[1.25, 3.75, 6.25, 8.75, 11.25]}
      yTop={422} yBot={572} frameTop={414} frameBot={578}
      H={kmI_H} L={kmI_L} Hup={kmI_Hup} Hlo={kmI_Hlo} Lup={kmI_Lup} Llo={kmI_Llo} medH={1.39} medL={5.05}
      pText="P < 0.0001" pY={543} legY={422} tabTop={581} tabBot={612} rowH={590} rowL={605} riskH={riskI_H} riskL={riskI_L}
      tickY={617} timeY={626} />
  );
}

function PanelJ() {
  return (
    <KM label="J" ly={633} tDomain={[0, 20]} tTicks={riskTimesJ} tMinor={[2.5, 7.5, 12.5, 17.5]}
      yTop={647} yBot={796} frameTop={640} frameBot={803}
      H={kmJ_H} L={kmJ_L} Hup={kmJ_Hup} Hlo={kmJ_Hlo} Lup={kmJ_Lup} Llo={kmJ_Llo} medH={8.37} medL={16.98}
      pText="P = 0.015" pY={767} legY={646} tabTop={805} tabBot={833} rowH={814} rowL={827} riskH={riskJ_H} riskL={riskJ_L}
      tickY={840} timeY={850} />
  );
}

export default function App() {
  return (
    <svg width={685} height={855} viewBox="0 0 685 855" fontFamily={SANS}
      style={{ position: 'absolute', left: 0, top: 0, background: '#fff', display: 'block' }}>
      <rect x={0} y={0} width={685} height={855} fill="#fff" />
      <PanelA />
      <PanelB />
      <PanelC />
      <PanelD />
      <PanelE />
      <PanelF />
      <PanelG />
      <PanelH />
      <PanelI />
      <PanelJ />
    </svg>
  );
}
